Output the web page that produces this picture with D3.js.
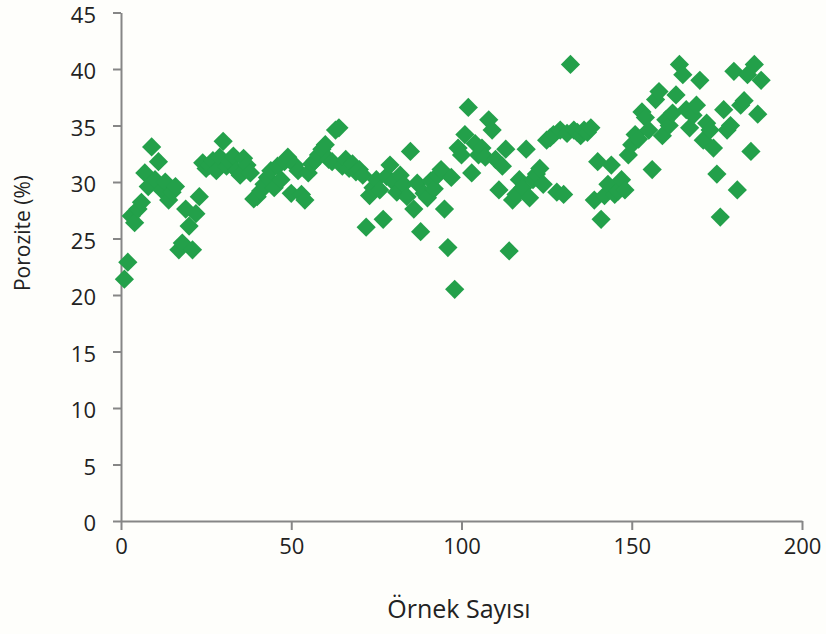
<!DOCTYPE html>
<html>
<head>
<meta charset="utf-8">
<script src="https://cdn.jsdelivr.net/npm/d3@7"></script>
<style>
  body { margin: 0; background: #fefefb; }
  svg { display: block; }
  .tick text { font-family: "Open Sans", sans-serif; font-size: 22px; fill: #222; }
</style>
</head>
<body>
<svg></svg>
<script>
// sample number -> porosity (%)
let sampleNo = d3.range(1, 189)
let porosity = [
  21.4, 22.9, 27.0, 26.4, 27.6, 28.2, 30.8, 29.6, 33.1, 30.2,
  31.8, 29.3, 30.0, 28.4, 29.1, 29.6, 24.0, 24.6, 27.6, 26.1,
  24.0, 27.2, 28.7, 31.7, 31.2, 31.5, 31.9, 31.0, 32.2, 33.6,
  31.4, 31.8, 32.3, 31.0, 30.6, 32.1, 31.5, 30.8, 28.5, 28.7,
  29.2, 29.8, 30.4, 31.0, 29.5, 31.4, 30.2, 31.8, 32.2, 29.0,
  31.5, 31.0, 28.9, 28.4, 30.8, 31.6, 31.9, 32.4, 32.9, 33.3,
  32.0, 31.8, 34.6, 34.8, 31.4, 32.0, 31.2, 31.6, 30.9, 31.1,
  30.6, 26.0, 28.8, 29.5, 30.2, 29.3, 26.7, 30.5, 31.5, 30.0,
  29.1, 30.6, 29.8, 28.7, 32.7, 27.6, 29.9, 25.6, 29.0, 28.6,
  30.1, 29.4, 30.6, 31.1, 27.6, 24.2, 30.4, 20.5, 33.0, 32.4,
  34.2, 36.6, 30.8, 33.4, 32.4, 33.0, 32.2, 35.5, 34.6, 32.0,
  29.3, 31.4, 32.9, 23.9, 28.4, 28.9, 30.2, 29.5, 32.9, 28.6,
  30.2, 30.7, 31.2, 29.8, 33.7, 33.9, 34.2, 29.1, 34.6, 28.9,
  34.3, 40.4, 34.6, 34.4, 34.1, 34.6, 34.4, 34.8, 28.4, 31.8,
  26.7, 28.8, 29.8, 31.5, 28.9, 29.2, 30.2, 29.3, 32.4, 33.3,
  34.2, 33.8, 36.2, 35.7, 34.6, 31.1, 37.3, 38.0, 34.1, 35.5,
  35.0, 36.1, 37.7, 40.4, 39.5, 36.4, 34.8, 35.9, 36.8, 39.0,
  33.7, 35.2, 34.6, 33.0, 30.7, 26.9, 36.4, 34.6, 35.0, 39.8,
  29.3, 36.8, 37.2, 39.5, 32.7, 40.4, 36.0, 39.0
]
let xTicks = [0, 50, 100, 150, 200]
let yTicks = [0, 5, 10, 15, 20, 25, 30, 35, 40, 45]

let width = 826
let height = 634

let data = sampleNo.map((n, i) => ({ n: n, p: porosity[i] }))

let svg = d3.select('svg')
            .attr('width', width)
            .attr('height', height)

let xScale = d3.scaleLinear()
               .domain([0, 200])
               .range([121, 802])

let yScale = d3.scaleLinear()
               .domain([0, 45])
               .range([521, 12.5])

let xAxis = d3.axisBottom(xScale)
              .tickValues(xTicks)
              .tickSize(9)
              .tickPadding(8)
              .tickSizeOuter(0)

let yAxis = d3.axisLeft(yScale)
              .tickValues(yTicks)
              .tickSize(8)
              .tickPadding(17)
              .tickSizeOuter(0)

let gx = svg.append('g')
            .attr('transform', 'translate(0,' + yScale(0) + ')')
            .call(xAxis)

let gy = svg.append('g')
            .attr('transform', 'translate(' + xScale(0) + ',0)')
            .call(yAxis)

// labels sit a touch below their ticks, like the original
gy.selectAll('.tick text').attr('dy', '0.45em')

svg.selectAll('.domain, .tick line')
   .attr('stroke', '#868686')
   .attr('stroke-width', 2)

let diamond = d3.symbol(d3.symbolSquare, 185)

svg.append('g')
   .selectAll('path')
   .data(data)
   .enter()
   .append('path')
   .attr('d', diamond)
   .attr('transform', (d) => 'translate(' + xScale(d.n) + ',' + yScale(d.p) + ') rotate(45)')
   .attr('fill', '#23a04a')

svg.append('text')
   .text('Porozite (%)')
   .attr('transform', 'translate(30,233) rotate(-90)')
   .attr('text-anchor', 'middle')
   .style('font-family', '"Open Sans", sans-serif')
   .style('font-size', '21px')
   .style('fill', '#222')

svg.append('text')
   .text('Örnek Sayısı')
   .attr('x', 459)
   .attr('y', 618)
   .attr('text-anchor', 'middle')
   .style('font-family', '"Open Sans", sans-serif')
   .style('font-size', '25px')
   .style('fill', '#222')
</script>
</body>
</html>
